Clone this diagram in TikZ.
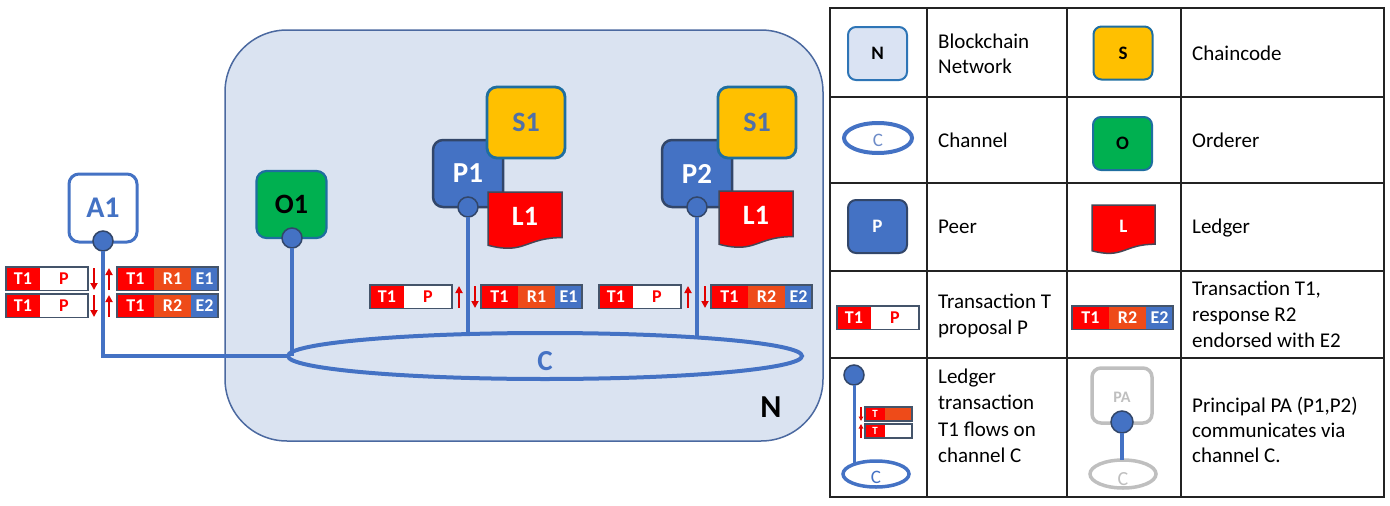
\documentclass[tikz,border=0pt]{standalone}
\usepackage{fontspec}
\setmainfont{Carlito}
\usetikzlibrary{arrows.meta,shapes.geometric,calc}
\definecolor{netfill}{RGB}{218,227,241}
\definecolor{netline}{RGB}{75,105,160}
\definecolor{pblue}{RGB}{68,114,196}
\definecolor{pdark}{RGB}{50,70,105}
\definecolor{syellow}{RGB}{255,192,0}
\definecolor{sline}{RGB}{31,110,160}
\definecolor{stext}{RGB}{80,112,168}
\definecolor{ogreen}{RGB}{0,176,80}
\definecolor{tred}{RGB}{255,0,0}
\definecolor{rorange}{RGB}{238,75,25}
\definecolor{stripline}{RGB}{68,84,106}
\definecolor{ldark}{RGB}{70,70,85}
\definecolor{lgray}{RGB}{191,191,191}
\definecolor{nlight}{RGB}{218,227,243}
\definecolor{nline}{RGB}{46,117,182}
\definecolor{tabcol}{RGB}{35,35,35}
\definecolor{arrred}{RGB}{225,0,0}
\definecolor{chlight}{RGB}{110,140,200}
\newcommand\fs[1]{\fontsize{#1}{#1}\selectfont}
% proposal strip: name, x, y (top-left)
\newcommand\pstrip[3]{%
  \node[stripcell, fill=tred, minimum width=34pt, anchor=north west] (#1t) at (#2,#3) {T1};
  \node[stripcell, fill=white, text=tred, minimum width=48pt, anchor=north west] (#1p) at (#1t.north east) {P};
  \draw[stripframe] (#1t.north west) rectangle (#1p.south east);
}
% response strip: name, x, y, R, E
\newcommand\rstrip[5]{%
  \node[stripcell, fill=tred, minimum width=37pt, anchor=north west] (#1t) at (#2,#3) {T1};
  \node[stripcell, fill=rorange, minimum width=37pt, anchor=north west] (#1r) at (#1t.north east) {#4};
  \node[stripcell, fill=pblue, minimum width=27pt, anchor=north west] (#1e) at (#1r.north east) {#5};
  \draw[stripframe] (#1t.north west) rectangle (#1e.south east);
}
% ledger document: name, x0, y0, w, h, text, font size
\newcommand\ledgerdoc[7]{%
  \draw[ledgershape] (#2,#3) -- ({#2+#4},#3) -- ({#2+#4},{#3+0.8*#5})
    .. controls ({#2+0.5*#4},{#3+0.8*#5}) and ({#2+0.5*#4},{#3+1.107*#5}) .. (#2,{#3+0.934*#5}) -- cycle;
  \node[ledgertext, font=\fs{#7}\bfseries] (#1) at ({#2+0.5*#4},{#3+0.43*#5}) {#6};
}
\begin{document}
\begin{tikzpicture}[x=1pt,y=-1pt,
  rbox/.style={rectangle, rounded corners=10pt, inner sep=0pt, outer sep=0pt, minimum width=70pt, minimum height=67pt},
  peerbox/.style={rbox, fill=pblue, draw=pdark, line width=2.5pt, text=white, font=\fs{29}\bfseries},
  ccbox/.style={rbox, fill=syellow, draw=sline, line width=2.8pt, text=stext, font=\fs{28}\bfseries, minimum width=78pt, minimum height=71pt},
  ordbox/.style={rbox, fill=ogreen, draw=sline, line width=2.2pt, text=black, font=\fs{28}\bfseries},
  appbox/.style={rbox, fill=white, draw=pblue, line width=3pt, text=pblue, font=\fs{30}\bfseries, minimum width=68pt, minimum height=68pt},
  portdot/.style={circle, fill=pblue, draw=pdark, line width=1.5pt, minimum size=20pt, inner sep=0pt, outer sep=0pt},
  chanline/.style={draw=pblue, line width=3.5pt},
  chanring/.style={ellipse, draw=pblue, line width=4pt, inner sep=0pt, outer sep=0pt},
  stripcell/.style={rectangle, inner sep=0pt, outer sep=0pt, minimum height=23.5pt, text=white, font=\fs{18}\bfseries},
  stripframe/.style={draw=stripline, line width=1.8pt},
  redflow/.style={draw=arrred, line width=2pt, -{Triangle[length=7pt,width=7pt]}},
  ledgershape/.style={fill=tred, draw=ldark, line width=1.5pt},
  ledgertext/.style={text=white, inner sep=0pt},
  legtext/.style={anchor=base west, inner sep=0pt, font=\fs{21}},
  tablerule/.style={draw=tabcol, line width=1.8pt},
  legicon/.style={rbox, minimum width=59pt, minimum height=53pt, rounded corners=8pt, line width=2pt, font=\fs{19}\bfseries},
]
\useasboundingbox (0,0) rectangle (1390,506);

% ---------------- network ----------------
\node[rectangle, rounded corners=62pt, fill=netfill, draw=netline, line width=1.5pt,
      minimum width=598pt, minimum height=411pt, inner sep=0pt] (N) at (524,235.5) {};
\node[font=\fs{32}\bfseries, text=black] (Nlbl) at (771,407) {N};

% channel
\node[chanring, minimum width=514pt, minimum height=46pt] (C) at (545,356) {};
\node[font=\fs{29}\bfseries, text=pblue] (Clbl) at (545,361) {C};

% application
\node[appbox] (A1) at (103,208) {A1};
\node[portdot] (A1c) at (103,241) {};

% orderer
\node[ordbox] (O1) at (291.5,204.5) {O1};
\node[portdot] (O1c) at (292,238) {};

% peers
\node[peerbox] (P1) at (468,173.5) {P1};
\node[ccbox] (S1a) at (526,122.5) {S1};
\ledgerdoc{L1a}{488}{192}{74}{57}{L1}{28}
\node[portdot] (P1c) at (468,207) {};

\node[peerbox] (P2) at (697,173.5) {P2};
\node[ccbox] (S1b) at (757,122.5) {S1};
\ledgerdoc{L1b}{719}{191}{74}{57}{L1}{28}
\node[portdot] (P2c) at (697,207) {};

% connections to channel
\draw[chanline] (A1c) |- (C.west);
\draw[chanline] (O1c) -- (O1c |- C.west);
\draw[chanline] (P1c) -- (P1c |- C.164);
\draw[chanline] (P2c) -- (P2c |- C.7);

% transaction strips at A1
\pstrip{aa}{6}{267}
\rstrip{ab}{117}{267}{R1}{E1}
\pstrip{ac}{6}{294}
\rstrip{ad}{117}{294}{R2}{E2}
\draw[redflow] (94,268) -- (94,290);
\draw[redflow] (109,290) -- (109,268);
\draw[redflow] (94,295) -- (94,317);
\draw[redflow] (109,317) -- (109,295);

% strips at P1
\pstrip{pa}{370}{285}
\rstrip{pb}{481}{285}{R1}{E1}
\draw[redflow] (459,308) -- (459,286);
\draw[redflow] (475,286) -- (475,308);

% strips at P2
\pstrip{qa}{599}{285}
\rstrip{qb}{711}{285}{R2}{E2}
\draw[redflow] (688,308) -- (688,286);
\draw[redflow] (705,286) -- (705,308);

% ---------------- legend ----------------
\draw[tablerule] (830,8) rectangle (1384,497);
\foreach \yy in {97,183,271,358} \draw[tablerule] (830,\yy) -- (1384,\yy);
\foreach \xx in {927,1067,1181} \draw[tablerule] (\xx,8) -- (\xx,497);

% row 1
\node[legicon, fill=nlight, draw=nline, text=black] (LN) at (877.5,53.5) {N};
\node[legtext] (tN1) at (938,48) {Blockchain};
\node[legtext] (tN2) at (938,73) {Network};
\node[legicon, fill=syellow, draw=sline, text=black] (LS) at (1123,53) {S};
\node[legtext] (tS) at (1192,60) {Chaincode};

% row 2
\node[chanring, minimum width=68pt, minimum height=30pt] (LC) at (878,138) {};
\node[font=\fs{19}, text=chlight] (LClbl) at (878,140) {C};
\node[legtext] (tC) at (938,147) {Channel};
\node[legicon, fill=ogreen, draw=sline, text=black] (LO) at (1122.5,143.5) {O};
\node[legtext] (tO) at (1192,147) {Orderer};

% row 3
\node[legicon, fill=pblue, draw=pdark, text=white] (LP) at (877.5,226.5) {P};
\node[legtext] (tP) at (938,233) {Peer};
\ledgerdoc{LL}{1092}{205}{63}{49}{L}{19}
\node[legtext] (tL) at (1192,233) {Ledger};

% row 4
\pstrip{la}{837}{306}
\node[legtext] (tT1) at (938,308) {Transaction T};
\node[legtext] (tT2) at (938,334) {proposal P};
\rstrip{lb}{1072}{306}{R2}{E2}
\node[legtext] (tR1) at (1192,295) {Transaction T1,};
\node[legtext] (tR2) at (1192,321) {response R2};
\node[legtext] (tR3) at (1192,347) {endorsed with E2};

% row 5 left: ledger transaction flow
\node[chanring, line width=3.5pt, minimum width=66pt, minimum height=26pt] (LFC) at (876,474) {};
\node[font=\fs{19}, text=pblue] (LFClbl) at (876,477) {C};
\node[portdot] (LFc) at (854,375) {};
\draw[chanline, line width=3pt] (LFc) -- (LFc |- LFC.154);
\node[stripcell, fill=tred, minimum width=20pt, minimum height=14pt, font=\fs{11}\bfseries, anchor=north west] (lf1t) at (865,407) {T};
\node[stripcell, fill=rorange, minimum width=27pt, minimum height=14pt, anchor=north west] (lf1r) at (lf1t.north east) {};
\draw[stripframe, line width=1.2pt] (lf1t.north west) rectangle (lf1r.south east);
\node[stripcell, fill=tred, minimum width=20pt, minimum height=14pt, font=\fs{11}\bfseries, anchor=north west] (lf2t) at (865,424) {T};
\node[stripcell, fill=white, minimum width=27pt, minimum height=14pt, anchor=north west] (lf2r) at (lf2t.north east) {};
\draw[stripframe, line width=1.2pt] (lf2t.north west) rectangle (lf2r.south east);
\draw[redflow, line width=1.3pt, -{Triangle[length=4.5pt,width=4.5pt]}] (861,407) -- (861,421);
\draw[redflow, line width=1.3pt, -{Triangle[length=4.5pt,width=4.5pt]}] (861,438) -- (861,424);
\node[legtext] (tF1) at (938,383) {Ledger};
\node[legtext] (tF2) at (938,409) {transaction};
\node[legtext] (tF3) at (938,436) {T1 flows on};
\node[legtext] (tF4) at (938,462) {channel C};

% row 5 right: principal
\node[rbox, fill=white, draw=lgray, line width=3.5pt, minimum width=60pt, minimum height=55pt, rounded corners=9pt] (PA) at (1122,395.5) {};
\node[font=\fs{16}\bfseries, text=lgray] (PAlbl) at (1122,397) {PA};
\node[chanring, draw=lgray, line width=3.5pt, minimum width=66pt, minimum height=28pt] (PAC) at (1123,474) {};
\node[font=\fs{20}, text=lgray] (PAClbl) at (1123,479) {C};
\node[portdot, minimum size=22pt] (PAc) at (1122,422) {};
\draw[chanline] (PAc) -- (PAc |- PAC.north);
\node[legtext] (tA1) at (1192,412) {Principal PA (P1,P2)};
\node[legtext] (tA2) at (1192,437) {communicates via};
\node[legtext] (tA3) at (1192,462) {channel C.};
\end{tikzpicture}
\end{document}
